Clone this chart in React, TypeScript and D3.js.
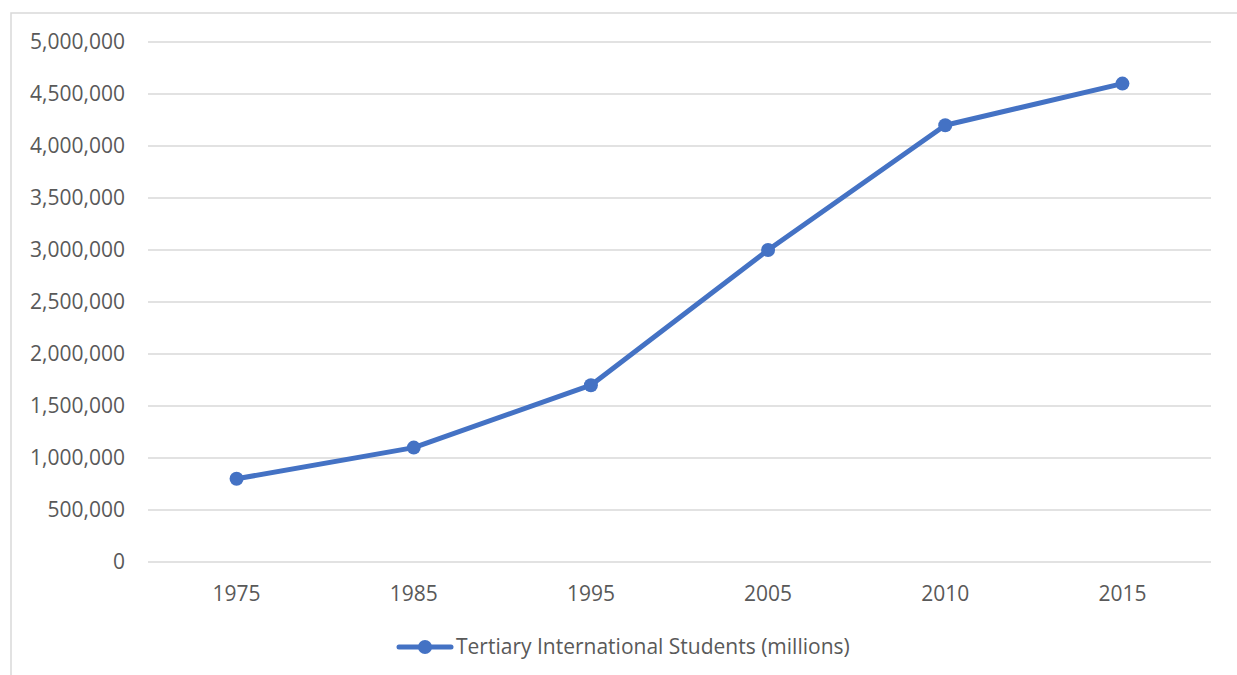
import React from "react";
import * as d3 from "d3";

const years = ["1975", "1985", "1995", "2005", "2010", "2015"];
const students = [800000, 1100000, 1700000, 3000000, 4200000, 4600000];
const yTicks = [0, 500000, 1000000, 1500000, 2000000, 2500000, 3000000, 3500000, 4000000, 4500000, 5000000];
const seriesName = "Tertiary International Students (millions)";

const W = 1237;
const H = 675;
const plot = { left: 148, right: 1211, top: 42, bottom: 562 };
const FONT = "'Open Sans', 'Noto Sans', sans-serif";
const FS = 21;
const TEXT = "#595959";
const BLUE = "#4472C4";

export default function App() {
  const x = d3.scaleBand<string>().domain(years).range([plot.left, plot.right]);
  const y = d3.scaleLinear().domain([0, 5000000]).range([plot.bottom, plot.top]);
  const fmt = d3.format(",");
  const line = d3
    .line<number>()
    .x((_, i) => (x(years[i]) as number) + x.bandwidth() / 2)
    .y((d) => y(d));

  return (
    <svg
      width={W}
      height={H}
      style={{ position: "absolute", left: 0, top: 0, background: "#fff" }}
      fontFamily={FONT}
    >
      <rect x={11} y={13} width={W} height={H} fill="none" stroke="#d9d9d9" strokeWidth={1.5} />
      {yTicks.map((t) => (
        <g key={t}>
          <line x1={plot.left} x2={plot.right} y1={y(t)} y2={y(t)} stroke="#d9d9d9" strokeWidth={1.5} />
          <text x={125} y={y(t)} dy="0.35em" textAnchor="end" fontSize={FS} fill={TEXT}>
            {fmt(t)}
          </text>
        </g>
      ))}
      {years.map((yr) => (
        <text
          key={yr}
          x={(x(yr) as number) + x.bandwidth() / 2}
          y={594}
          dy="0.35em"
          textAnchor="middle"
          fontSize={FS}
          fill={TEXT}
        >
          {yr}
        </text>
      ))}
      <path d={line(students) ?? ""} fill="none" stroke={BLUE} strokeWidth={5} strokeLinejoin="round" strokeLinecap="round" />
      {students.map((v, i) => (
        <circle key={i} cx={(x(years[i]) as number) + x.bandwidth() / 2} cy={y(v)} r={7} fill={BLUE} />
      ))}
      <g>
        <line x1={399} x2={451} y1={647} y2={647} stroke={BLUE} strokeWidth={5} strokeLinecap="round" />
        <circle cx={425} cy={647} r={7} fill={BLUE} />
        <text x={456} y={647} dy="0.35em" fontSize={FS} fill={TEXT}>
          {seriesName}
        </text>
      </g>
    </svg>
  );
}
